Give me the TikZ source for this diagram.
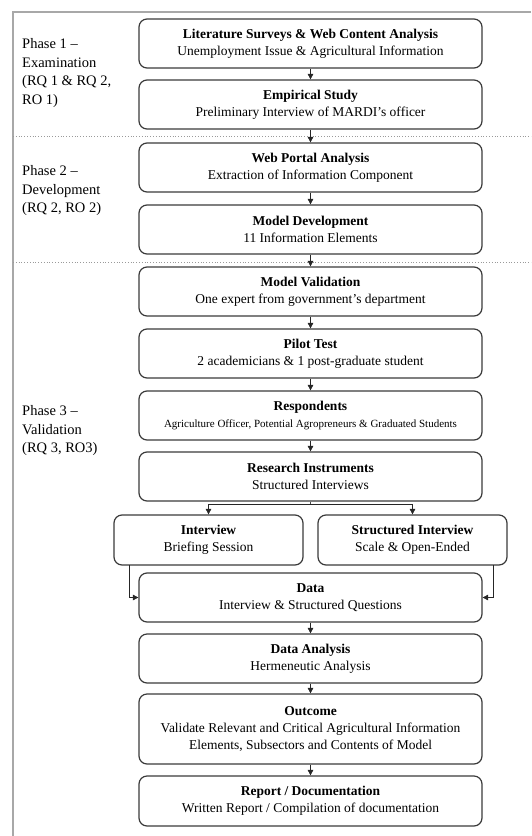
\documentclass[tikz,border=0pt]{standalone}
\usepackage{fontspec}
\setmainfont{Liberation Serif}
\usetikzlibrary{arrows.meta}
\definecolor{boxc}{HTML}{3A3A3A}
\definecolor{framec}{HTML}{A8A8A8}
\definecolor{dotc}{HTML}{9A9A9A}
\begin{document}
\begin{tikzpicture}[x=1pt,y=-1pt,
  box/.style={draw=boxc, line width=1.2pt, rounded corners=8pt, align=center, inner sep=0pt,
    font=\fontsize{13.5}{17}\selectfont, text=black, minimum height=49pt},
  wide/.style={box, minimum width=343pt},
  half/.style={box, minimum width=189pt},
  arr/.style={draw=black!85, line width=0.6pt, -{Triangle[width=5.5pt,length=5.5pt]}},
  lnk/.style={draw=black!70, line width=0.6pt},
  phase/.style={anchor=north west, align=left, inner sep=0pt,
    font=\fontsize{14.5}{18.8}\selectfont},
  frame/.style={draw=framec, line width=2pt},
  sep/.style={draw=dotc, line width=0.8pt, dotted}
]
\useasboundingbox (0,0) rectangle (531,836);
% frame
\coordinate (fTL) at (13,12);
\coordinate (fTR) at (531,12);
\coordinate (fBL) at (13,836);
\draw[frame] (fTR) -- (fTL) -- (fBL);
% separators
\coordinate (s1a) at (13,136);
\coordinate (s1b) at (531,136);
\coordinate (s2a) at (13,262);
\coordinate (s2b) at (531,262);
\draw[sep] (s1a) -- (s1b);
\draw[sep] (s2a) -- (s2b);

% phase labels
\node[phase] (p1) at (22,38) {Phase 1 --\\Examination\\(RQ 1 \& RQ 2,\\RO 1)};
\node[phase] (p2) at (22,165) {Phase 2 --\\Development\\(RQ 2, RO 2)};
\node[phase] (p3) at (22,405) {Phase 3 --\\Validation\\(RQ 3, RO3)};

% boxes
\node[wide] (b1) at (310.5,43.5) {\textbf{Literature Surveys \& Web Content Analysis}\\Unemployment Issue \& Agricultural Information};
\node[wide] (b2) at (310.5,104.5) {\textbf{Empirical Study}\\Preliminary Interview of MARDI's officer};
\node[wide] (b3) at (310.5,167.5) {\textbf{Web Portal Analysis}\\Extraction of Information Component};
\node[wide] (b4) at (310.5,229.5) {\textbf{Model Development}\\11 Information Elements};
\node[wide] (b5) at (310.5,291.5) {\textbf{Model Validation}\\One expert from government's department};
\node[wide] (b6) at (310.5,353.5) {\textbf{Pilot Test}\\2 academicians \& 1 post-graduate student};
\node[wide] (b7) at (310.5,415.5) {\textbf{Respondents}\\{\fontsize{11}{13}\selectfont Agriculture Officer, Potential Agropreneurs \& Graduated Students}};
\node[wide] (b8) at (310.5,476.5) {\textbf{Research Instruments}\\Structured Interviews};
\node[half, minimum height=50pt] (b9) at (208.5,540) {\textbf{Interview}\\Briefing Session};
\node[half, minimum height=50pt] (b10) at (412.5,540) {\textbf{Structured Interview}\\Scale \& Open-Ended};
\node[wide] (b11) at (310.5,597.5) {\textbf{Data}\\Interview \& Structured Questions};
\node[wide] (b12) at (310.5,658.5) {\textbf{Data Analysis}\\Hermeneutic Analysis};
\node[wide, minimum height=70pt] (b13) at (310.5,729) {\textbf{Outcome}\\Validate Relevant and Critical Agricultural Information\\Elements, Subsectors and Contents of Model};
\node[wide, minimum height=50pt] (b14) at (310.5,801) {\textbf{Report / Documentation}\\Written Report / Compilation of documentation};

% straight arrows
\foreach \a/\b in {b1/b2,b2/b3,b3/b4,b4/b5,b5/b6,b6/b7,b7/b8,b11/b12,b12/b13,b13/b14}
  \draw[arr] (\a.south) -- (\b.north);

% split
\coordinate (sp) at (310.5,504);
\draw[lnk] (b8.south) -- (sp);
\draw[arr] (sp) -| (b9.north);
\draw[arr] (sp) -| (b10.north);

% merge into data
\coordinate (m1) at (129,565);
\coordinate (m2) at (493,565);
\draw[arr] (m1) |- (b11.west);
\draw[arr] (m2) |- (b11.east);
\end{tikzpicture}
\end{document}
